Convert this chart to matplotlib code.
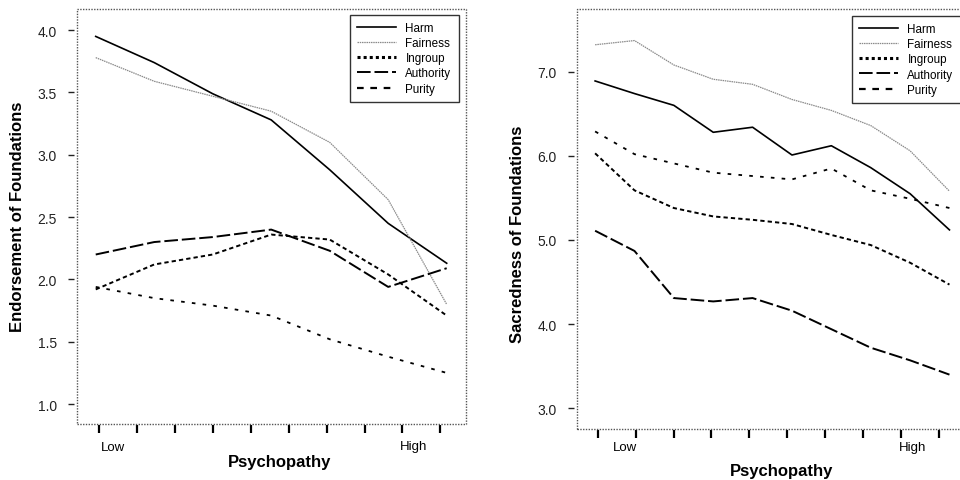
import matplotlib
matplotlib.use("Agg")
import matplotlib.pyplot as plt
from matplotlib.patches import Rectangle
import numpy as np

plt.rcParams['font.family'] = ['Liberation Sans', 'DejaVu Sans']

series_names = ["Harm", "Fairness", "Ingroup", "Authority", "Purity"]

# Left panel: endorsement (7 groups)
left_harm = [3.95, 3.74, 3.49, 3.28, 2.88, 2.45, 2.13]
left_fairness = [3.78, 3.59, 3.47, 3.35, 3.10, 2.64, 1.80]
left_ingroup = [1.92, 2.12, 2.20, 2.36, 2.32, 2.04, 1.71]
left_authority = [2.20, 2.30, 2.34, 2.40, 2.23, 1.94, 2.09]
left_purity = [1.94, 1.85, 1.79, 1.71, 1.52, 1.38, 1.25]

# Right panel: sacredness (10 groups)
right_harm = [6.89, 6.74, 6.60, 6.28, 6.34, 6.01, 6.12, 5.86, 5.55, 5.12]
right_fairness = [7.32, 7.37, 7.08, 6.91, 6.85, 6.67, 6.54, 6.36, 6.06, 5.58]
right_ingroup = [6.03, 5.59, 5.38, 5.28, 5.24, 5.19, 5.06, 4.94, 4.73, 4.47]
right_authority = [5.11, 4.87, 4.31, 4.27, 4.31, 4.16, 3.94, 3.72, 3.57, 3.40]
right_purity = [6.29, 6.02, 5.91, 5.80, 5.76, 5.72, 5.85, 5.59, 5.49, 5.38]

left_yticks = [1.0, 1.5, 2.0, 2.5, 3.0, 3.5, 4.0]
right_yticks = [3.0, 4.0, 5.0, 6.0, 7.0]
x_labels = ["Low", "High"]

styles = {
    "Harm": dict(color="black", lw=1.2, ls="-"),
    "Fairness": dict(color="#8a8a8a", lw=0.9, ls=(0, (1.2, 0.6))),
    "Ingroup": dict(color="black", lw=1.4, ls=(0, (2.2, 1.6))),
    "Authority": dict(color="black", lw=1.4, ls=(0, (7, 2))),
    "Purity": dict(color="black", lw=1.3, ls=(0, (2, 4))),
}
legend_styles = {
    "Ingroup": dict(color="black", lw=2.2, ls=(0, (1, 1))),
    "Purity": dict(color="black", lw=1.6, ls=(0, (3, 3))),
}

fig = plt.figure(figsize=(9.6, 4.81), dpi=100)
W, H = 960, 481


def make_ax(x0, x1, y0, y1):
    return fig.add_axes([x0 / W, 1 - y1 / H, (x1 - x0) / W, (y1 - y0) / H])


def style_ax(ax, yticks, fmt):
    for s in ax.spines.values():
        s.set_visible(False)
    ax.add_patch(Rectangle((0, 0), 1, 1, transform=ax.transAxes, fill=False,
                           ec="#555555", lw=1.0, ls=(0, (1, 1)), zorder=5, clip_on=False))
    ax.spines['left'].set_position(('outward', 2.5))
    ax.spines['bottom'].set_position(('outward', 1))
    ax.set_yticks(yticks)
    ax.set_yticklabels([fmt % v for v in yticks])
    ax.tick_params(axis='y', length=4, width=1.0, pad=8, labelsize=10, colors='#222222')
    ax.tick_params(axis='x', length=6, width=1.6, colors='black', labelbottom=False)


def draw(ax, xs, data):
    for name, vals in zip(series_names, data):
        ax.plot(xs, vals, **styles[name], label=name)


# Left panel
axL = make_ax(77, 466, 10, 425)
xsL = np.arange(len(left_harm))
draw(axL, xsL, [left_harm, left_fairness, left_ingroup, left_authority, left_purity])
axL.set_xlim(-0.32, 6.33)
axL.set_ylim(0.84, 4.17)
style_ax(axL, left_yticks, "%.1f")
axL.set_xticks(np.linspace(0.06, 0.06 + 0.648 * 9, 10))
fig.text(113 / W, 1 - 448 / H, x_labels[0], ha='center', va='center', fontsize=9.5)
fig.text(414 / W, 1 - 447 / H, x_labels[1], ha='center', va='center', fontsize=9.5)
fig.text(280 / W, 1 - 463 / H, "Psychopathy", ha='center', va='center', fontsize=12, fontweight='bold')
fig.text(18 / W, 1 - 217 / H, "Endorsement of Foundations", ha='center', va='center',
         rotation=90, fontsize=12, fontweight='bold')

# Right panel
axR = make_ax(577, 966, 10, 430)
xsR = np.arange(len(right_harm))
draw(axR, xsR, [right_harm, right_fairness, right_ingroup, right_authority, right_purity])
axR.set_xlim(-0.46, 9.42)
axR.set_ylim(2.754, 7.745)
style_ax(axR, right_yticks, "%.1f")
axR.set_xticks(np.linspace(0.07, 0.07 + 0.962 * 9, 10))
fig.text(625 / W, 1 - 448 / H, x_labels[0], ha='center', va='center', fontsize=9.5)
fig.text(913 / W, 1 - 448 / H, x_labels[1], ha='center', va='center', fontsize=9.5)
fig.text(782 / W, 1 - 472 / H, "Psychopathy", ha='center', va='center', fontsize=12, fontweight='bold')
fig.text(517 / W, 1 - 234 / H, "Sacredness of Foundations", ha='center', va='center',
         rotation=90, fontsize=12, fontweight='bold')


def add_legend(ax, x0, y0):
    handles = []
    for name in series_names:
        st = legend_styles.get(name, styles[name])
        h, = ax.plot([], [], **st, label=name)
        handles.append(h)
    leg = ax.legend(handles=handles, loc='upper left',
                    bbox_to_anchor=(x0, y0), bbox_transform=fig.transFigure,
                    frameon=True, fancybox=False, edgecolor='black', fontsize=8.4,
                    handlelength=3.3, handletextpad=0.85, labelspacing=0.28,
                    borderpad=0.6, borderaxespad=0)
    leg.get_frame().set_linewidth(1.0)
    leg.set_zorder(6)
    return leg


add_legend(axL, 350 / W, 1 - 15.7 / H)
add_legend(axR, 852 / W, 1 - 16.7 / H)

fig.savefig("out.png", dpi=100)
